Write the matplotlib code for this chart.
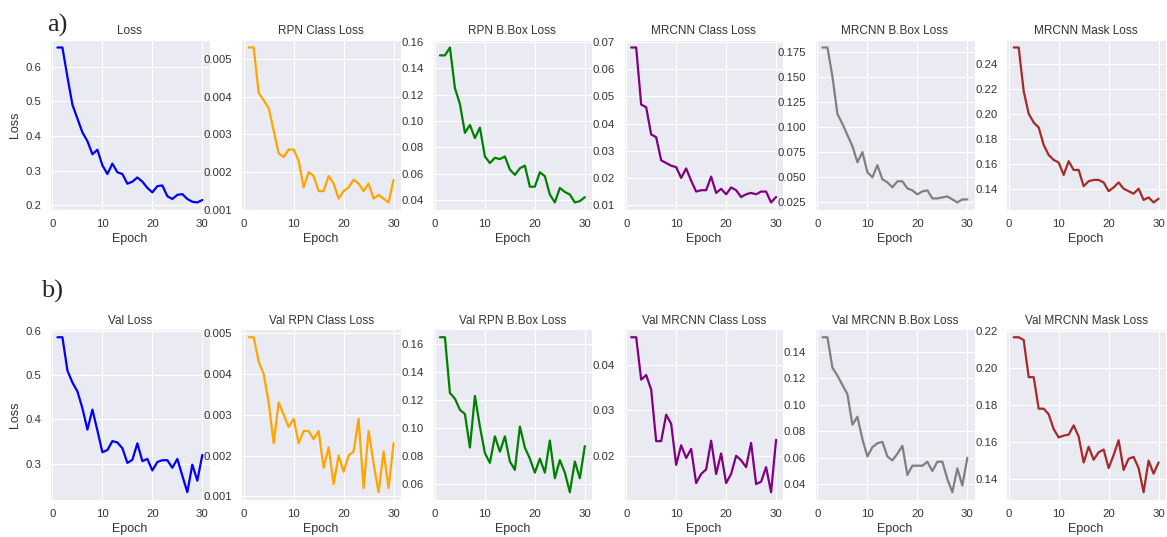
"""
Mask R-CNN training curves: train losses (a) and validation losses (b), 30 epochs.
"""
import matplotlib
matplotlib.use("Agg")
import matplotlib.pyplot as plt
import seaborn as sns

epochs = list(range(1, 31))

titles_train = ["Loss", "RPN Class Loss", "RPN B.Box Loss",
                "MRCNN Class Loss", "MRCNN B.Box Loss", "MRCNN Mask Loss"]
titles_val = ["Val Loss", "Val RPN Class Loss", "Val RPN B.Box Loss",
              "Val MRCNN Class Loss", "Val MRCNN B.Box Loss", "Val MRCNN Mask Loss"]
colors = ["blue", "orange", "green", "purple", "gray", "brown"]

loss = [0.655, 0.655, 0.57, 0.49, 0.45, 0.41, 0.385, 0.347, 0.36, 0.315,
        0.29, 0.32, 0.295, 0.29, 0.262, 0.268, 0.28, 0.268, 0.25, 0.237,
        0.255, 0.257, 0.226, 0.218, 0.23, 0.232, 0.218, 0.21, 0.208, 0.215]
rpn_class = [0.0053, 0.0053, 0.0041, 0.0039, 0.0037, 0.0031, 0.0025, 0.0024, 0.0026, 0.0026,
             0.0023, 0.0016, 0.0020, 0.0019, 0.0015, 0.0015, 0.0019, 0.0017, 0.0013, 0.0015,
             0.0016, 0.0018, 0.0017, 0.0015, 0.0017, 0.0013, 0.0014, 0.0013, 0.0012, 0.0018]
rpn_bbox = [0.150, 0.150, 0.156, 0.125, 0.113, 0.091, 0.097, 0.087, 0.095, 0.073,
            0.068, 0.072, 0.071, 0.073, 0.063, 0.059, 0.064, 0.066, 0.050, 0.050,
            0.061, 0.058, 0.044, 0.038, 0.049, 0.046, 0.044, 0.038, 0.039, 0.042]
mrcnn_class = [0.068, 0.068, 0.047, 0.046, 0.036, 0.035, 0.0265, 0.0255, 0.0245, 0.024,
               0.020, 0.0235, 0.019, 0.015, 0.0155, 0.0155, 0.0205, 0.0145, 0.016, 0.014,
               0.0165, 0.0155, 0.013, 0.014, 0.0145, 0.014, 0.015, 0.015, 0.011, 0.013]
mrcnn_bbox = [0.179, 0.179, 0.150, 0.113, 0.103, 0.092, 0.081, 0.065, 0.075, 0.055,
              0.050, 0.062, 0.048, 0.045, 0.040, 0.046, 0.046, 0.039, 0.037, 0.033,
              0.036, 0.037, 0.029, 0.029, 0.030, 0.031, 0.028, 0.025, 0.028, 0.028]
mrcnn_mask = [0.253, 0.253, 0.218, 0.200, 0.193, 0.189, 0.175, 0.167, 0.163, 0.161,
              0.151, 0.162, 0.155, 0.155, 0.142, 0.146, 0.147, 0.147, 0.145, 0.138,
              0.141, 0.145, 0.140, 0.138, 0.136, 0.140, 0.131, 0.133, 0.129, 0.132]

val_loss = [0.585, 0.585, 0.51, 0.483, 0.463, 0.425, 0.377, 0.422, 0.375, 0.326,
            0.331, 0.351, 0.348, 0.335, 0.302, 0.309, 0.346, 0.306, 0.311, 0.285,
            0.304, 0.308, 0.308, 0.291, 0.311, 0.273, 0.236, 0.298, 0.262, 0.32]
val_rpn_class = [0.0049, 0.0049, 0.0043, 0.0040, 0.0033, 0.0023, 0.0033, 0.0030, 0.0027, 0.0029,
                 0.0023, 0.0026, 0.0026, 0.0024, 0.0026, 0.0017, 0.0022, 0.0013, 0.0020, 0.0016,
                 0.0020, 0.0021, 0.0029, 0.0012, 0.0026, 0.0018, 0.0011, 0.0021, 0.0012, 0.0023]
val_rpn_bbox = [0.165, 0.165, 0.125, 0.121, 0.113, 0.110, 0.086, 0.123, 0.101, 0.082,
                0.075, 0.094, 0.083, 0.094, 0.076, 0.070, 0.101, 0.086, 0.078, 0.068,
                0.078, 0.068, 0.091, 0.064, 0.077, 0.068, 0.054, 0.076, 0.064, 0.087]
val_mrcnn_class = [0.046, 0.046, 0.0367, 0.0377, 0.0345, 0.0232, 0.0232, 0.029, 0.027, 0.018,
                   0.0223, 0.0195, 0.0215, 0.014, 0.016, 0.017, 0.0233, 0.016, 0.0205, 0.014,
                   0.016, 0.020, 0.019, 0.0175, 0.0228, 0.0138, 0.0143, 0.0175, 0.012, 0.0235]
val_mrcnn_bbox = [0.151, 0.151, 0.128, 0.122, 0.115, 0.108, 0.085, 0.091, 0.074, 0.061,
                  0.068, 0.071, 0.072, 0.061, 0.058, 0.063, 0.069, 0.047, 0.054, 0.054,
                  0.054, 0.057, 0.050, 0.057, 0.057, 0.044, 0.034, 0.052, 0.039, 0.060]
val_mrcnn_mask = [0.2165, 0.2165, 0.215, 0.195, 0.195, 0.178, 0.178, 0.175, 0.167, 0.1625,
                  0.1635, 0.164, 0.169, 0.163, 0.149, 0.1575, 0.1505, 0.1545, 0.156, 0.146,
                  0.153, 0.161, 0.145, 0.151, 0.152, 0.146, 0.133, 0.150, 0.143, 0.149]

train_series = [loss, rpn_class, rpn_bbox, mrcnn_class, mrcnn_bbox, mrcnn_mask]
val_series = [val_loss, val_rpn_class, val_rpn_bbox, val_mrcnn_class, val_mrcnn_bbox, val_mrcnn_mask]


def main():
    sns.set_style("darkgrid")
    plt.rcParams["font.family"] = ["Liberation Sans", "DejaVu Sans"]
    fig, axes = plt.subplots(2, 6, figsize=(11.67, 5.37), dpi=100)
    fig.subplots_adjust(left=0.043, right=0.999, bottom=0.069, top=0.926,
                        wspace=0.2, hspace=0.7)

    for row, (titles, series) in enumerate([(titles_train, train_series),
                                            (titles_val, val_series)]):
        for col in range(6):
            ax = axes[row, col]
            ax.plot(epochs, series[col], color=colors[col], lw=1.6)
            ax.set_title(titles[col], fontsize=8.5, color="#333333", pad=4)
            ax.set_xlabel("Epoch", fontsize=9, color="#333333", labelpad=3)
            ax.set_xticks([0, 10, 20, 30])
            ax.tick_params(labelsize=8.2, colors="#333333", pad=3)
            if col == 0:
                ax.set_ylabel("Loss", fontsize=9, color="#333333", labelpad=3)

    fig.text(0.049, 0.953, "a)", family="Liberation Serif", fontsize=19,
             ha="center", va="center")
    fig.text(0.045, 0.457, "b)", family="Liberation Serif", fontsize=19,
             ha="center", va="center")

    fig.savefig("out.png", dpi=100)
    plt.close(fig)


if __name__ == "__main__":
    main()
